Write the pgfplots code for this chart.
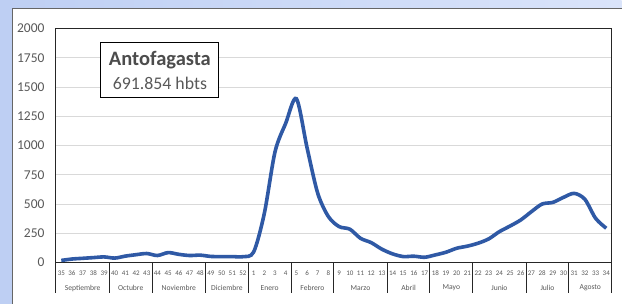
\documentclass[border=0pt]{standalone}
\usepackage{fontspec}
\setmainfont{Carlito}
\usepackage{pgfplots}
\pgfplotsset{compat=1.18}
\definecolor{lineblue}{RGB}{47,89,165}
\definecolor{txtgray}{RGB}{89,89,89}
\definecolor{gridgray}{RGB}{217,217,217}
\definecolor{bgblue1}{RGB}{190,207,243}
\definecolor{bgblue2}{RGB}{218,228,250}
\begin{document}
\begin{tikzpicture}[x=1pt,y=1pt]
\shade[left color=bgblue1, right color=bgblue2] (0,0) rectangle (622,304);
\fill[white] (12,0) rectangle (622,296);
\draw[black!60, line width=0.8pt] (12,0) -- (12,296) -- (622,296);
\begin{axis}[at={(56pt,41.3pt)}, anchor=south west, scale only axis,
  width=556pt, height=234.2pt,
  xmin=-0.5, xmax=51.5, ymin=0, ymax=2000,
  ytick={0,250,...,2000},
  ymajorgrids, grid style={gridgray, line width=0.9pt},
  xtick={0,...,51},
  xticklabels={35,36,37,38,39,40,41,42,43,44,45,46,47,48,49,50,51,52,1,2,3,4,5,6,7,8,9,10,11,12,13,14,15,16,17,18,19,20,21,22,23,24,25,26,27,28,29,30,31,32,33,34},
  x tick label style={font=\fontsize{7}{8}\selectfont, text=txtgray, anchor=base, yshift=-12.5pt},
  y tick label style={font=\fontsize{13.5}{15}\selectfont, text=txtgray, xshift=-8pt},
  /pgf/number format/assume math mode=true,
  /pgf/number format/1000 sep={},
  major tick length=0pt, tick style={draw=none},
  axis line style={black!85, line width=1pt},
  clip=false,
]
\addplot[lineblue, line width=3.6pt, smooth, tension=0.5] coordinates {
(0,18) (1,30) (2,36) (3,42) (4,48) (5,38) (6,55) (7,67) (8,77) (9,60)
(10,85) (11,70) (12,60) (13,63) (14,52) (15,51) (16,51) (17,50) (18,90) (19,420)
(20,946) (21,1190) (22,1400) (23,980) (24,591) (25,392) (26,307) (27,285) (28,207) (29,170)
(30,114) (31,74) (32,51) (33,54) (34,45) (35,65) (36,88) (37,122) (38,140) (39,165)
(40,202) (41,264) (42,312) (43,364) (44,435) (45,500) (46,514) (47,557) (48,591) (49,540)
(50,378) (51,293)
};
\pgfplotsinvokeforeach{-0.5,4.5,8.5,13.5,17.5,21.5,25.5,30.5,34.5,38.5,43.5,47.5,51.5}{
  \draw[black!85, line width=1pt] (axis cs:#1,0) -- ++(0pt,-30pt);
}
\tikzset{mlab/.style={font=\fontsize{7.6}{9}\selectfont, text=txtgray, inner sep=0pt}}
\node[mlab] at ([yshift=-25.5pt]axis cs:2,0) {Septiembre};
\node[mlab] at ([yshift=-25.5pt]axis cs:6.5,0) {Octubre};
\node[mlab] at ([yshift=-25.5pt]axis cs:11,0) {Noviembre};
\node[mlab] at ([yshift=-25.5pt]axis cs:15.5,0) {Diciembre};
\node[mlab] at ([yshift=-25.5pt]axis cs:19.5,0) {Enero};
\node[mlab] at ([yshift=-25.5pt]axis cs:23.5,0) {Febrero};
\node[mlab] at ([yshift=-25.5pt]axis cs:28,0) {Marzo};
\node[mlab] at ([yshift=-25.5pt]axis cs:32.5,0) {Abril};
\node[mlab] at ([yshift=-25.5pt]axis cs:36.5,0) {Mayo};
\node[mlab] at ([yshift=-25.5pt]axis cs:41,0) {Junio};
\node[mlab] at ([yshift=-25.5pt]axis cs:45.5,0) {Julio};
\node[mlab] at ([yshift=-25.5pt]axis cs:49.5,0) {Agosto};
\end{axis}
\draw[fill=white, draw=black, line width=1pt] (101,206) rectangle (219,261);
\node[font=\bfseries\fontsize{20.5}{22}\selectfont, text=txtgray!85!black] at (160,244) {Antofagasta};
\node[font=\fontsize{17.8}{20}\selectfont, text=txtgray] at (160,221) {691.854 hbts};
\end{tikzpicture}
\end{document}
